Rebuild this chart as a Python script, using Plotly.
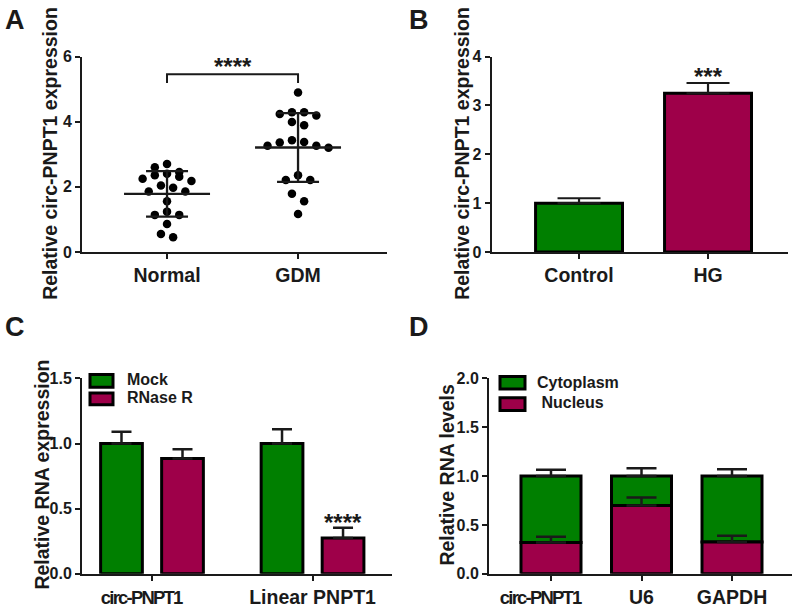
import numpy as np
import plotly.graph_objects as go

# ---------------- data ----------------
# Panel A: scatter dot plot (individual samples)
a_categories = ["Normal", "GDM"]
a_normal = [2.70, 2.46, 2.60, 2.36, 2.25, 2.31, 2.40, 2.18, 2.04, 1.97,
            1.86, 1.86, 1.56, 1.14, 1.24, 1.14, 0.86, 0.45, 0.55]
a_gdm = [4.90, 4.19, 4.29, 4.29, 4.24, 3.89, 3.99, 3.43, 3.36, 3.26,
         3.20, 3.26, 3.38, 2.36, 2.21, 2.21, 1.79, 1.56, 1.17]
a_sig = "****"

# Panel B
b_categories = ["Control", "HG"]
b_values = [1.00, 3.25]
b_errors = [0.10, 0.21]
b_sig = "***"

# Panel C
c_categories = ["circ-PNPT1", "Linear PNPT1"]
c_mock = [1.00, 1.00]
c_mock_err = [0.09, 0.11]
c_rnase = [0.885, 0.275]
c_rnase_err = [0.07, 0.078]
c_sig = ["", "****"]

# Panel D
d_categories = ["circ-PNPT1", "U6", "GAPDH"]
d_nucleus = [0.32, 0.70, 0.325]
d_nucleus_err = [0.06, 0.08, 0.065]
d_cytoplasm = [0.68, 0.30, 0.675]
d_cytoplasm_err = [0.065, 0.08, 0.07]

# ---------------- style ----------------
W, H = 797, 610
GREEN = "#007F00"
MAROON = "#9E0049"
INK = "#1a1a1a"
FONT = "Liberation Sans, Arial, sans-serif"


def px(x):
    return x / W


def py(y):
    return 1 - y / H


def condensed(label):
    # the reference prints the "circ-..." labels condensed and set slightly left
    if label.startswith("circ"):
        return ("<span style=\"font-size:18.5px;letter-spacing:-1.8px\">%s</span>" % label
                + "\u00a0" * 4)
    return label


def row_scatter(vals, bin_h, step):
    """GraphPad-like column scatter: points whose values fall within bin_h of
    a row's top value share a row and are spread symmetrically (offsets in px)."""
    vals = np.asarray(vals, dtype=float)
    order = list(np.argsort(-vals, kind="stable"))
    xs = np.zeros(len(vals))
    groups, cur = [], []
    for i in order:
        if cur and vals[cur[0]] - vals[i] > bin_h:
            groups.append(cur)
            cur = []
        cur.append(i)
    if cur:
        groups.append(cur)
    for g in groups:
        n = len(g)
        offs = [(k - (n - 1) / 2) * step for k in range(n)]
        offs.sort(key=lambda o: (abs(o), o))
        for i, o in zip(g, offs):
            xs[i] = o
    return xs


fig = go.Figure()

# ---------------- Panel A ----------------
A_XRANGE = [-0.649, 1.679]
A_XPX = (387 - 82) / (A_XRANGE[1] - A_XRANGE[0])
for gi, vals in enumerate([a_normal, a_gdm]):
    offs = row_scatter(vals, 0.25, 12.2) / A_XPX
    fig.add_trace(go.Scatter(
        x=gi + offs, y=vals, mode="markers", xaxis="x", yaxis="y",
        marker=dict(size=8.5, color="black"), showlegend=False, hoverinfo="y"))
    m = float(np.mean(vals))
    s = float(np.std(vals, ddof=1))
    mw, cw = 43 / A_XPX, 21 / A_XPX
    fig.add_trace(go.Scatter(
        x=[gi - mw, gi + mw, None, gi, gi, None, gi - cw, gi + cw, None, gi - cw, gi + cw],
        y=[m, m, None, m - s, m + s, None, m + s, m + s, None, m - s, m - s],
        mode="lines", line=dict(color=INK, width=2.3), xaxis="x", yaxis="y",
        showlegend=False, hoverinfo="skip"))

# ---------------- Panel B ----------------
fig.add_trace(go.Bar(
    x=[0, 1], y=b_values, width=0.674, xaxis="x2", yaxis="y2",
    marker=dict(color=[GREEN, MAROON], line=dict(color="black", width=3)),
    error_y=dict(type="data", array=b_errors, arrayminus=[0, 0], symmetric=False,
                 color=INK, thickness=2.2, width=21.5),
    showlegend=False))

# ---------------- Panel C ----------------
fig.add_trace(go.Bar(
    x=[0, 1], y=c_mock, width=0.26, offset=-0.32, xaxis="x3", yaxis="y3",
    marker=dict(color=GREEN, line=dict(color="black", width=3)),
    error_y=dict(type="data", array=c_mock_err, arrayminus=[0, 0], symmetric=False,
                 color=INK, thickness=2.5, width=10),
    name="Mock", showlegend=False))
fig.add_trace(go.Bar(
    x=[0, 1], y=c_rnase, width=0.26, offset=0.06, xaxis="x3", yaxis="y3",
    marker=dict(color=MAROON, line=dict(color="black", width=3)),
    error_y=dict(type="data", array=c_rnase_err, arrayminus=[0, 0], symmetric=False,
                 color=INK, thickness=2.5, width=10),
    name="RNase R", showlegend=False))

# ---------------- Panel D ----------------
fig.add_trace(go.Bar(
    x=[0, 1, 2], y=d_cytoplasm, base=d_nucleus, width=0.663, xaxis="x4", yaxis="y4",
    marker=dict(color=GREEN, line=dict(color="black", width=3)),
    error_y=dict(type="data", array=d_cytoplasm_err, arrayminus=[0, 0, 0], symmetric=False,
                 color=INK, thickness=2.5, width=15),
    name="Cytoplasm", showlegend=False))
fig.add_trace(go.Bar(
    x=[0, 1, 2], y=d_nucleus, width=0.663, xaxis="x4", yaxis="y4",
    marker=dict(color=MAROON, line=dict(color="black", width=3)),
    error_y=dict(type="data", array=d_nucleus_err, arrayminus=[0, 0, 0], symmetric=False,
                 color=INK, thickness=2.5, width=15),
    name="Nucleus", showlegend=False))

# ---------------- axes ----------------
tickfont = dict(family=FONT, size=16, color=INK, weight="bold")
xtickfont = dict(family=FONT, size=19.5, color=INK, weight="bold")
common = dict(showline=True, linewidth=2, linecolor=INK, ticks="outside", tickwidth=2,
              ticklen=5, tickcolor=INK, showgrid=False, zeroline=False, fixedrange=True)

layout_axes = dict(
    xaxis=dict(domain=[px(82), px(387)], range=A_XRANGE, tickvals=[0, 1],
               ticktext=a_categories, tickfont=xtickfont, anchor="y", **common),
    yaxis=dict(domain=[py(251), py(50)], range=[0, 6], tickvals=[0, 2, 4, 6],
               tickfont=tickfont, anchor="x", **common),
    xaxis2=dict(domain=[px(491.7), px(788)], range=[-0.677, 1.62], tickvals=[0, 1],
                ticktext=b_categories, tickfont=xtickfont, anchor="y2", **common),
    yaxis2=dict(domain=[py(251), py(50)], range=[0, 4], tickvals=[0, 1, 2, 3, 4],
                tickfont=tickfont, anchor="x2", **common),
    xaxis3=dict(domain=[px(82), px(392)], range=[-0.436, 1.495], tickvals=[0, 1],
                ticktext=[condensed(c) for c in c_categories], tickfont=xtickfont,
                anchor="y3", **common),
    yaxis3=dict(domain=[py(582), py(381)], range=[0, 1.5], tickvals=[0, 0.5, 1.0, 1.5],
                tickformat=".1f", tickfont=tickfont, anchor="x3", **common),
    xaxis4=dict(domain=[px(489), px(792)], range=[-0.685, 2.663], tickvals=[0, 1, 2],
                ticktext=[condensed(c) for c in d_categories], tickfont=xtickfont,
                anchor="y4", **common),
    yaxis4=dict(domain=[py(582), py(381)], range=[0, 2.0], tickvals=[0, 0.5, 1.0, 1.5, 2.0],
                tickformat=".1f", tickfont=tickfont, anchor="x4", **common),
)

annotations = []
shapes = []

# panel letters
for letter, (x, y) in zip("ABCD", [(3, 12), (407, 12), (3, 328), (407, 328)]):
    annotations.append(dict(text=letter, x=px(x), y=py(y), xref="paper", yref="paper",
                            xanchor="left", yanchor="middle", showarrow=False,
                            font=dict(family=FONT, size=27, color=INK, weight="bold")))

# y-axis titles
for text, x, y in [("Relative circ-PNPT1 expression", 50, 150),
                   ("Relative circ-PNPT1 expression", 462, 150),
                   ("Relative RNA expression", 42, 480),
                   ("Relative RNA levels", 447, 480)]:
    annotations.append(dict(text=text, x=px(x), y=py(y), xref="paper", yref="paper",
                            xanchor="center", yanchor="middle", textangle=-90,
                            showarrow=False,
                            font=dict(family=FONT, size=19.5, color=INK, weight="bold")))

starfont = dict(family=FONT, size=24, color=INK, weight="bold")
# Panel A bracket + stars
shapes.append(dict(type="path", xref="x", yref="y",
                   path="M 0,5.19 L 0,5.46 L 1,5.46 L 1,5.19",
                   line=dict(color=INK, width=2)))
annotations.append(dict(text=a_sig, x=0.5, y=5.46, xref="x", yref="y", showarrow=False,
                        xanchor="center", yanchor="bottom", yshift=-8, font=starfont))
# Panel B stars
annotations.append(dict(text=b_sig, x=1, y=b_values[1] + b_errors[1], xref="x2", yref="y2",
                        showarrow=False, xanchor="center", yanchor="bottom", yshift=-9,
                        font=starfont))
# Panel C stars
for gi, sig in enumerate(c_sig):
    if sig:
        annotations.append(dict(text=sig, x=gi + 0.19, y=c_rnase[gi] + c_rnase_err[gi],
                                xref="x3", yref="y3", showarrow=False, xanchor="center",
                                yanchor="bottom", yshift=-10, font=starfont))

# legends (C and D)
legfont = dict(family=FONT, size=16, color=INK, weight="bold")
for (x0, x1, y0, y1, color, label, tx, ty) in [
        (90, 113, 377, 390, GREEN, "Mock", 125, 382),
        (90, 113, 396, 408, MAROON, "RNase R", 125, 401),
        (500, 525, 379, 392, GREEN, "Cytoplasm", 535, 385),
        (500, 525, 401, 414, MAROON, "\u00a0Nucleus", 535, 406)]:
    shapes.append(dict(type="rect", xref="paper", yref="paper",
                       x0=px(x0), x1=px(x1), y0=py(y1), y1=py(y0),
                       fillcolor=color, line=dict(color="black", width=3)))
    annotations.append(dict(text=label, x=px(tx), y=py(ty), xref="paper", yref="paper",
                            xanchor="left", yanchor="middle", showarrow=False, font=legfont))

fig.update_layout(
    width=W, height=H, margin=dict(l=0, r=0, t=0, b=0),
    paper_bgcolor="white", plot_bgcolor="white",
    barmode="overlay", showlegend=False,
    font=dict(family=FONT, color=INK),
    annotations=annotations, shapes=shapes,
    **layout_axes)

fig.write_html("out.html", config={"responsive": False, "displayModeBar": False},
               post_script="document.body.style.margin='0px';document.body.style.overflow='hidden';")
